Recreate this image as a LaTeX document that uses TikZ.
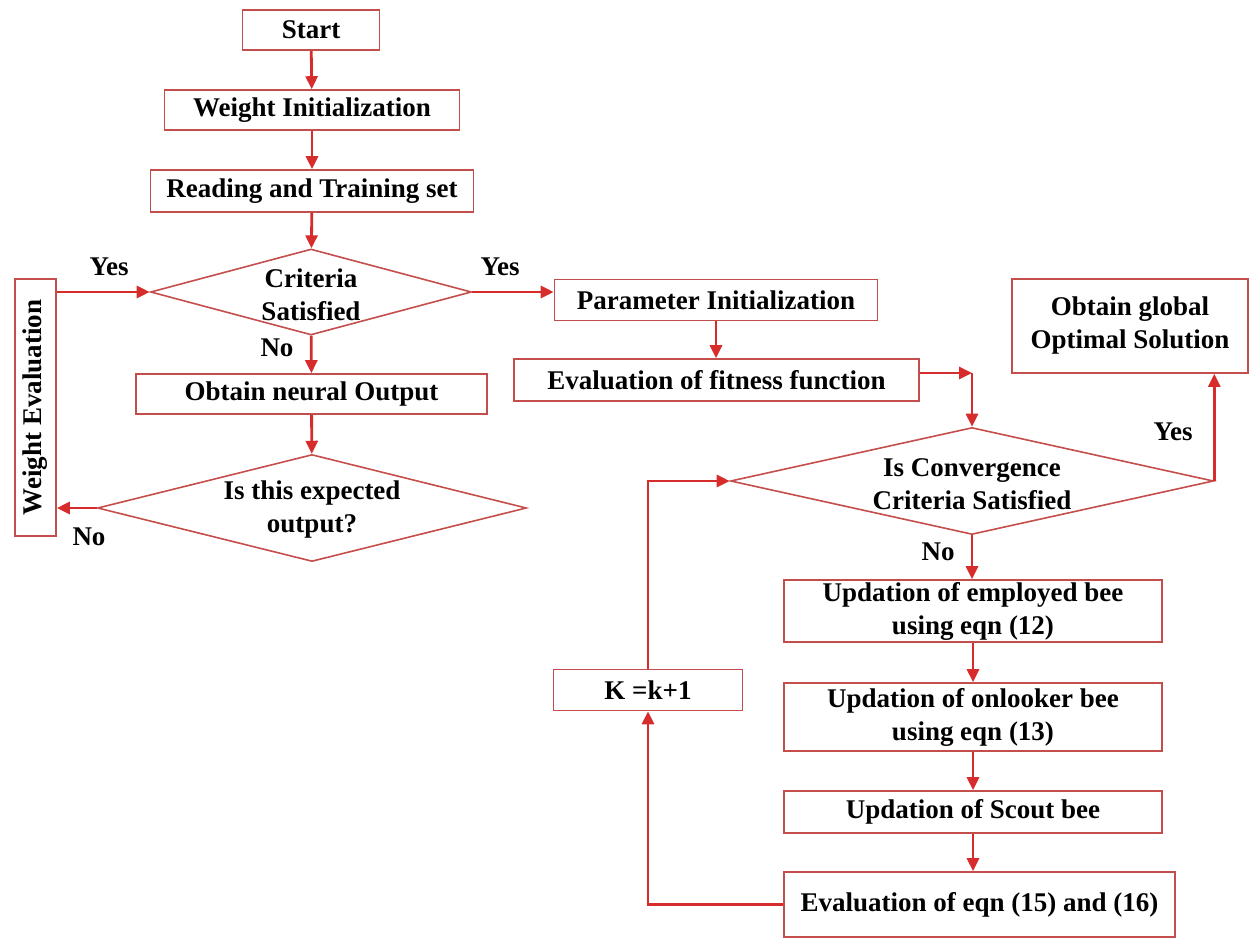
\documentclass[tikz,border=0pt]{standalone}
\usepackage{fontspec}
\setmainfont{Liberation Serif}
\usetikzlibrary{shapes.geometric,arrows.meta,calc}
\definecolor{boxred}{RGB}{196,78,75}
\definecolor{arrred}{RGB}{214,44,44}
\begin{document}
\begin{tikzpicture}[x=1pt,y=-1pt,
 box/.style={draw=boxred,line width=1.6pt,fill=white,inner sep=0pt,align=center,font=\fontsize{27}{33}\selectfont\bfseries},
 dia/.style={draw=boxred,line width=1.6pt,diamond,inner sep=0pt},
 txt/.style={align=center,font=\fontsize{27}{33}\selectfont\bfseries,inner sep=0pt},
 arr/.style={draw=arrred,line width=2.8pt,-{Triangle[length=13pt,width=12pt]}}]
\useasboundingbox (0,0) rectangle (1253,939);
% left column
\node[box,minimum width=137,minimum height=40] (start) at (311,30) {Start};
\node[box,minimum width=295,minimum height=40] (winit) at (312,110) {Weight Initialization};
\node[box,minimum width=323,minimum height=42] (read) at (312,191) {Reading and Training set};
\node[dia,minimum width=321,minimum height=86] (crit) at (311,292) {};
\node[txt] (critt) at (311,295) {Criteria\\Satisfied};
\node[box,minimum width=257,minimum height=41,rotate=90] (weval) at (35.5,407.5) {Weight Evaluation};
\node[box,minimum width=351,minimum height=40] (neur) at (311.5,394) {Obtain neural Output};
\node[dia,minimum width=429,minimum height=107] (exp) at (312,508) {};
\node[txt] (expt) at (312,510) {Is this expected\\output?};
% right part
\node[box,minimum width=323,minimum height=41] (param) at (716,300) {Parameter Initialization};
\node[box,minimum width=405,minimum height=42] (fit) at (716.5,380) {Evaluation of fitness function};
\node[dia,minimum width=483,minimum height=107] (conv) at (972,481) {};
\node[txt] (convt) at (972,484) {Is Convergence\\Criteria Satisfied};
\node[box,minimum width=236,minimum height=94] (glob) at (1130,326) {Obtain global\\Optimal Solution};
\node[box,minimum width=378,minimum height=62] (emp) at (973,611) {Updation of employed bee\\using eqn (12)};
\node[box,minimum width=378,minimum height=68] (onl) at (973,717) {Updation of onlooker bee\\using eqn (13)};
\node[box,minimum width=378,minimum height=42] (sct) at (973,812) {Updation of Scout bee};
\node[box,minimum width=391,minimum height=65] (evq) at (979.5,904.5) {Evaluation of eqn (15) and (16)};
\node[box,minimum width=189,minimum height=41] (kk) at (648,690) {K =k+1};
% labels
\node[txt] (y1) at (109,267) {Yes};
\node[txt] (y2) at (500,267) {Yes};
\node[txt] (n1) at (277,348) {No};
\node[txt] (n2) at (89,537) {No};
\node[txt] (n3) at (938,552) {No};
\node[txt] (y3) at (1173,432) {Yes};
% connectors
\draw[arr] (start) -- (winit);
\draw[arr] (winit) -- (read);
\draw[arr] (read) -- (crit);
\draw[arr] (crit.west -| weval.south) -- (crit.west);
\draw[arr] (crit.east) -- (crit.east -| param.west);
\draw[arr] (crit) -- (neur);
\draw[arr] (neur) -- (exp);
\draw[arr] (exp.west) -- (exp.west -| weval.south);
\draw[arr] (param.south) -- (param.south |- fit.north);
\coordinate (c1) at (972,373);
\draw[arr] (c1 -| fit.east) -- (c1);
\draw[arr] (c1) -- (conv.north);
\draw[arr] (conv.east) -- (conv.east |- glob.south);
\draw[arr] (conv.south) -- (conv.south |- emp.north);
\draw[arr] (emp.south) -- (emp.south |- onl.north);
\draw[arr] (onl.south) -- (onl.south |- sct.north);
\draw[arr] (sct.south) -- (sct.south |- evq.north);
\draw[arr] (evq.west) -| (kk.south);
\draw[arr] (kk.north) |- (conv.west);
\end{tikzpicture}
\end{document}
